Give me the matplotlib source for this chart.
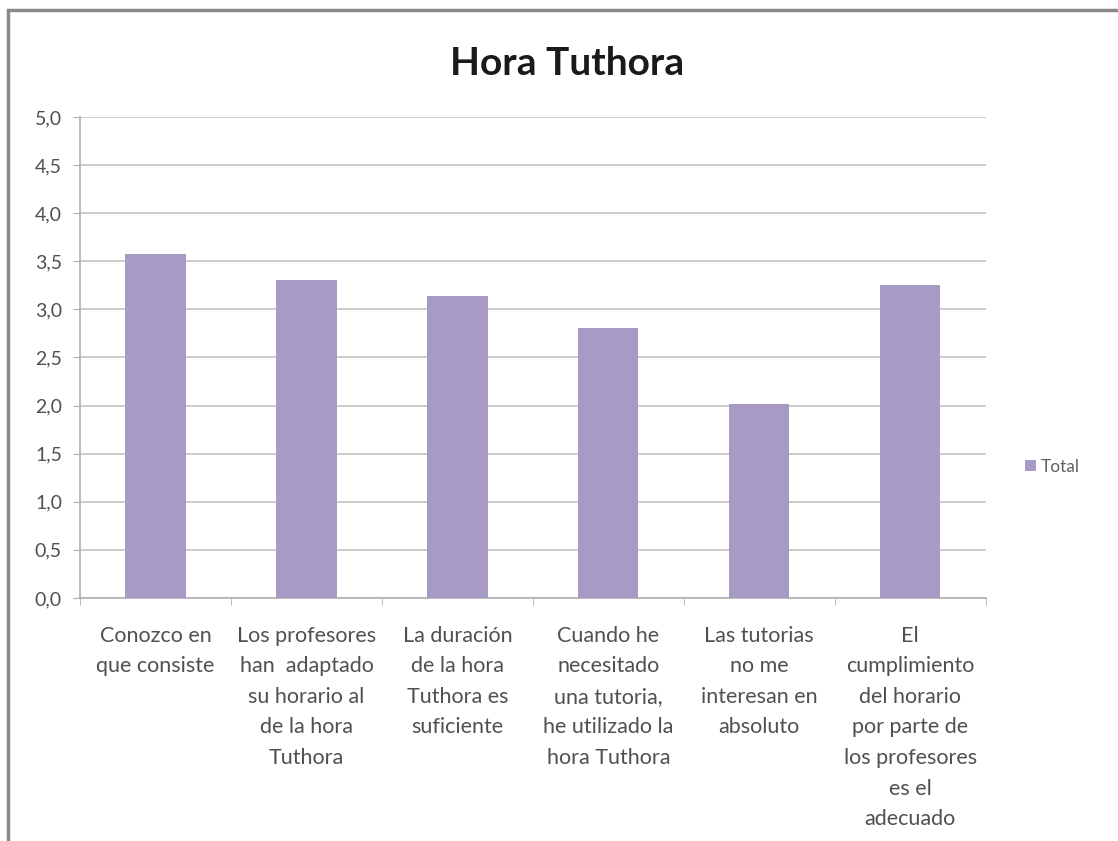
import matplotlib.pyplot as plt
from matplotlib.patches import Rectangle
from matplotlib.ticker import FuncFormatter

categories = [
    "Conozco en\nque consiste",
    "Los profesores\nhan  adaptado\nsu horario al\nde la hora\nTuthora",
    "La duración\nde la hora\nTuthora es\nsuficiente",
    "Cuando he\nnecesitado\nuna tutoria,\nhe utilizado la\nhora Tuthora",
    "Las tutorias\nno me\ninteresan en\nabsoluto",
    "El\ncumplimiento\ndel horario\npor parte de\nlos profesores\nes el\nadecuado",
]
values = [3.57, 3.30, 3.14, 2.81, 2.02, 3.25]
series_name = "Total"

plt.rcParams['font.family'] = ['Lato', 'DejaVu Sans']

fig = plt.figure(figsize=(11.18, 8.41), dpi=100)
ax = fig.add_axes([0.0716, 0.289, 0.81, 0.572])

x = list(range(len(values)))
ax.bar(x, values, width=0.4, color='#a79bc5', label=series_name, zorder=3)

ax.set_xlim(-0.5, len(values) - 0.5)
ax.set_ylim(0, 5)
ax.set_yticks([i * 0.5 for i in range(11)])
ax.yaxis.set_major_formatter(FuncFormatter(lambda v, p: f"{v:.1f}".replace('.', ',')))
ax.grid(axis='y', color='#c8c8c8', linewidth=1.3, zorder=0)

ax.set_xticks(x)
ax.set_xticklabels(categories, fontsize=15.5, color='#505050', linespacing=1.66, va='top')
ax.set_xticks([i - 0.5 for i in range(len(values) + 1)], minor=True)
ax.tick_params(axis='x', which='major', length=0, pad=20)
ax.tick_params(axis='x', which='minor', length=5, color='#b0b0b0')
ax.tick_params(axis='y', labelsize=14, colors='#505050', length=5, pad=8)
ax.tick_params(axis='y', color='#b0b0b0')

for side in ['top', 'right']:
    ax.spines[side].set_visible(False)
for side in ['left', 'bottom']:
    ax.spines[side].set_color('#b0b0b0')
    ax.spines[side].set_linewidth(1.2)

# title sits a bit right of the plot centre, as in the original
ax.set_title("Hora Tuthora", fontsize=28, fontweight='bold', color='#1a1a1a', pad=30, x=0.538)

leg = fig.legend(loc='center left', bbox_to_anchor=(0.903, 0.445), frameon=False,
                 fontsize=12.5, handlelength=0.6, handleheight=0.6, handletextpad=0.3)
for t in leg.get_texts():
    t.set_color('#606060')

# outer chart frame (image is cropped on the right and bottom)
fig.patches.append(Rectangle((0.007, -0.05), 1.05, 1.038, transform=fig.transFigure,
                             fill=False, edgecolor='#8a8a8a', linewidth=2.5))

fig.savefig('out.png', dpi=100)
